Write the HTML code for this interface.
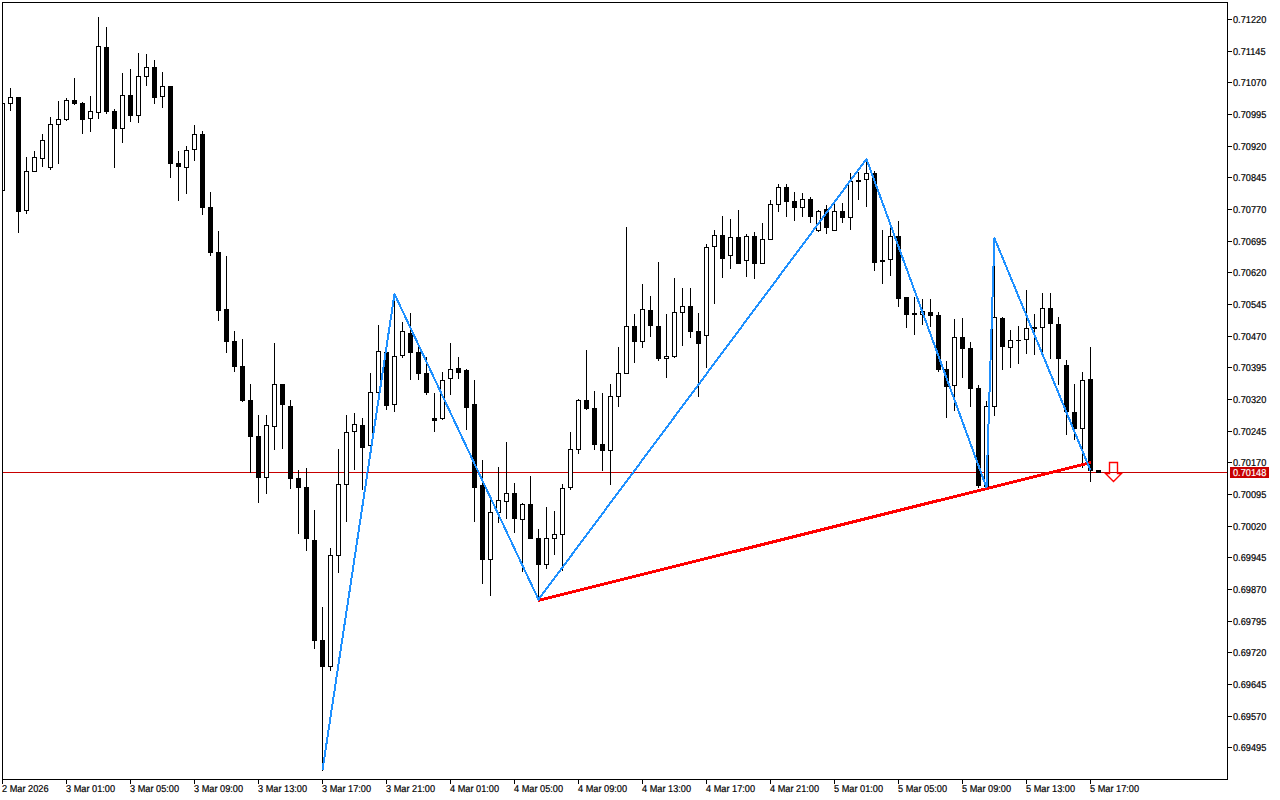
<!DOCTYPE html>
<html><head><meta charset="utf-8"><title>Chart</title>
<style>
html,body{margin:0;padding:0;background:#fff;}
body{width:1280px;height:800px;overflow:hidden;position:relative;font-family:"Liberation Sans",sans-serif;}
svg{position:absolute;left:0;top:0;}
.pl{position:absolute;left:1233px;font-size:10px;line-height:10px;text-rendering:geometricPrecision;height:10px;color:#000;white-space:nowrap;transform-origin:0 50%;transform:scaleX(0.92);-webkit-text-stroke:0.2px #000;}
.tl{position:absolute;top:785px;font-size:10px;line-height:10px;text-rendering:geometricPrecision;height:10px;color:#000;white-space:nowrap;transform-origin:0 50%;transform:scaleX(0.92);-webkit-text-stroke:0.2px #000;}
.cur{position:absolute;left:1230px;top:467px;width:39px;height:11px;background:#c80000;}
.cur span{position:absolute;left:3px;top:2px;font-size:10px;line-height:10px;text-rendering:geometricPrecision;color:#fff;white-space:nowrap;transform-origin:0 50%;transform:scaleX(0.92);-webkit-text-stroke:0.2px #fff;}
</style></head><body>
<svg width="1280" height="800" viewBox="0 0 1280 800" shape-rendering="crispEdges">
<rect x="3" y="472" width="1224" height="1" fill="#c80000"/>
<path d="M2 103h3v88h-3zM10 88h1v23h-1zM8 97h5v7h-5zM18 97h1v136h-1zM16 97h5v115h-5zM26 157h1v57h-1zM24 171h5v40h-5zM34 151h1v21h-1zM32 157h5v15h-5zM42 134h1v33h-1zM40 140h5v19h-5zM50 117h1v53h-1zM48 124h5v44h-5zM58 101h1v63h-1zM56 119h5v6h-5zM66 98h1v23h-1zM64 100h5v20h-5zM74 78h1v27h-1zM72 100h5v4h-5zM82 102h1v32h-1zM80 103h5v17h-5zM90 96h1v36h-1zM88 111h5v8h-5zM98 17h1v102h-1zM96 46h5v67h-5zM106 27h1v87h-1zM104 47h5v65h-5zM114 109h1v59h-1zM112 111h5v18h-5zM122 73h1v70h-1zM120 95h5v34h-5zM130 69h1v53h-1zM128 95h5v21h-5zM138 53h1v70h-1zM136 76h5v40h-5zM146 54h1v32h-1zM144 67h5v10h-5zM154 60h1v44h-1zM152 67h5v31h-5zM162 72h1v36h-1zM160 86h5v11h-5zM170 86h1v92h-1zM168 86h5v78h-5zM178 151h1v50h-1zM176 163h5v4h-5zM186 146h1v48h-1zM184 150h5v18h-5zM194 125h1v36h-1zM192 134h5v16h-5zM202 131h1v84h-1zM200 134h5v74h-5zM210 192h1v64h-1zM208 207h5v46h-5zM218 231h1v90h-1zM216 252h5v59h-5zM226 256h1v97h-1zM224 309h5v33h-5zM234 331h1v41h-1zM232 341h5v26h-5zM242 339h1v63h-1zM240 366h5v35h-5zM250 384h1v89h-1zM248 400h5v37h-5zM258 415h1v88h-1zM256 436h5v42h-5zM266 415h1v79h-1zM264 425h5v53h-5zM274 343h1v107h-1zM272 384h5v43h-5zM282 384h1v65h-1zM280 384h5v21h-5zM290 400h1v89h-1zM288 406h5v73h-5zM298 470h1v64h-1zM296 478h5v10h-5zM306 468h1v83h-1zM304 487h5v52h-5zM314 510h1v139h-1zM312 540h5v101h-5zM322 607h1v164h-1zM320 640h5v27h-5zM330 548h1v123h-1zM328 555h5v112h-5zM338 449h1v124h-1zM336 484h5v72h-5zM346 415h1v107h-1zM344 432h5v53h-5zM354 413h1v57h-1zM352 424h5v8h-5zM362 418h1v72h-1zM360 425h5v23h-5zM370 373h1v73h-1zM368 392h5v54h-5zM378 325h1v68h-1zM376 351h5v42h-5zM386 352h1v58h-1zM384 352h5v54h-5zM394 293h1v119h-1zM392 356h5v49h-5zM402 322h1v36h-1zM400 331h5v25h-5zM410 313h1v67h-1zM408 333h5v20h-5zM418 346h1v34h-1zM416 352h5v22h-5zM426 357h1v38h-1zM424 373h5v20h-5zM434 393h1v39h-1zM432 418h5v3h-5zM442 372h1v48h-1zM440 380h5v39h-5zM450 343h1v52h-1zM448 369h5v10h-5zM458 357h1v22h-1zM456 368h5v5h-5zM466 369h1v61h-1zM464 370h5v38h-5zM474 380h1v142h-1zM472 404h5v84h-5zM482 460h1v124h-1zM480 485h5v75h-5zM490 500h1v96h-1zM488 512h5v48h-5zM498 467h1v56h-1zM496 500h5v13h-5zM506 442h1v77h-1zM504 493h5v9h-5zM514 483h1v50h-1zM512 493h5v26h-5zM522 503h1v69h-1zM520 504h5v16h-5zM530 476h1v63h-1zM528 504h5v35h-5zM538 529h1v71h-1zM536 538h5v27h-5zM546 507h1v62h-1zM544 538h5v27h-5zM554 511h1v44h-1zM552 534h5v5h-5zM562 484h1v87h-1zM560 488h5v47h-5zM570 432h1v58h-1zM568 449h5v39h-5zM578 399h1v55h-1zM576 400h5v50h-5zM586 350h1v60h-1zM584 400h5v9h-5zM594 391h1v59h-1zM592 408h5v37h-5zM602 393h1v78h-1zM600 444h5v7h-5zM610 384h1v101h-1zM608 396h5v55h-5zM618 347h1v60h-1zM616 373h5v24h-5zM626 227h1v147h-1zM624 326h5v48h-5zM634 314h1v49h-1zM632 326h5v16h-5zM642 284h1v64h-1zM640 309h5v33h-5zM650 296h1v41h-1zM648 310h5v16h-5zM658 262h1v99h-1zM656 326h5v33h-5zM666 314h1v64h-1zM664 356h5v3h-5zM674 278h1v80h-1zM672 312h5v45h-5zM682 288h1v58h-1zM680 306h5v7h-5zM690 288h1v50h-1zM688 306h5v26h-5zM698 313h1v84h-1zM696 331h5v13h-5zM706 244h1v124h-1zM704 247h5v89h-5zM714 230h1v74h-1zM712 235h5v12h-5zM722 216h1v62h-1zM720 235h5v24h-5zM730 219h1v50h-1zM728 237h5v19h-5zM738 210h1v54h-1zM736 237h5v27h-5zM746 234h1v43h-1zM744 236h5v25h-5zM754 232h1v47h-1zM752 236h5v28h-5zM762 223h1v41h-1zM760 239h5v25h-5zM770 200h1v40h-1zM768 204h5v36h-5zM778 184h1v28h-1zM776 187h5v18h-5zM786 184h1v33h-1zM784 187h5v15h-5zM794 192h1v29h-1zM792 201h5v7h-5zM802 193h1v24h-1zM800 199h5v9h-5zM810 197h1v26h-1zM808 199h5v18h-5zM818 210h1v22h-1zM816 211h5v20h-5zM826 205h1v29h-1zM824 209h5v19h-5zM834 202h1v29h-1zM832 211h5v20h-5zM842 203h1v20h-1zM840 211h5v7h-5zM850 173h1v57h-1zM848 181h5v37h-5zM858 172h1v28h-1zM856 180h5v2h-5zM866 158h1v49h-1zM864 173h5v7h-5zM874 171h1v100h-1zM872 173h5v90h-5zM882 230h1v54h-1zM880 260h5v2h-5zM890 227h1v49h-1zM888 236h5v24h-5zM898 221h1v86h-1zM896 236h5v63h-5zM906 297h1v31h-1zM904 297h5v18h-5zM914 297h1v38h-1zM912 313h5v2h-5zM922 299h1v26h-1zM920 311h5v4h-5zM930 299h1v28h-1zM928 312h5v4h-5zM938 312h1v60h-1zM936 315h5v55h-5zM946 361h1v57h-1zM944 369h5v18h-5zM954 319h1v92h-1zM952 337h5v49h-5zM962 318h1v60h-1zM960 337h5v12h-5zM970 342h1v65h-1zM968 348h5v41h-5zM978 385h1v103h-1zM976 388h5v98h-5zM986 401h1v87h-1zM984 406h5v81h-5zM994 237h1v179h-1zM992 317h5v90h-5zM1002 317h1v53h-1zM1000 318h5v29h-5zM1010 330h1v38h-1zM1008 340h5v8h-5zM1018 326h1v38h-1zM1016 340h5v1h-5zM1026 290h1v64h-1zM1024 328h5v12h-5zM1034 314h1v41h-1zM1032 327h5v2h-5zM1042 293h1v59h-1zM1040 308h5v20h-5zM1050 293h1v66h-1zM1048 308h5v16h-5zM1058 317h1v68h-1zM1056 324h5v35h-5zM1066 360h1v75h-1zM1064 365h5v47h-5zM1074 384h1v56h-1zM1072 412h5v17h-5zM1082 372h1v96h-1zM1080 380h5v49h-5zM1090 347h1v135h-1zM1088 379h5v92h-5zM1098 470h1v3h-1zM1096 470h5v3h-5z" fill="#000"/>
<path d="M2 104h2v86h-2zM9 98h3v5h-3zM25 172h3v38h-3zM33 158h3v13h-3zM41 141h3v17h-3zM49 125h3v42h-3zM57 120h3v4h-3zM65 101h3v18h-3zM89 112h3v6h-3zM97 47h3v65h-3zM121 96h3v32h-3zM137 77h3v38h-3zM145 68h3v8h-3zM161 87h3v9h-3zM185 151h3v16h-3zM193 135h3v14h-3zM265 426h3v51h-3zM273 385h3v41h-3zM329 556h3v110h-3zM337 485h3v70h-3zM345 433h3v51h-3zM353 425h3v6h-3zM369 393h3v52h-3zM377 352h3v40h-3zM393 357h3v47h-3zM401 332h3v23h-3zM441 381h3v37h-3zM449 370h3v8h-3zM489 513h3v46h-3zM497 501h3v11h-3zM505 494h3v7h-3zM521 505h3v14h-3zM545 539h3v25h-3zM553 535h3v3h-3zM561 489h3v45h-3zM569 450h3v37h-3zM577 401h3v48h-3zM609 397h3v53h-3zM617 374h3v22h-3zM625 327h3v46h-3zM641 310h3v31h-3zM665 357h3v1h-3zM673 313h3v43h-3zM681 307h3v5h-3zM705 248h3v87h-3zM713 236h3v10h-3zM729 238h3v17h-3zM745 237h3v23h-3zM761 240h3v23h-3zM769 205h3v34h-3zM777 188h3v16h-3zM801 200h3v7h-3zM817 212h3v18h-3zM833 212h3v18h-3zM849 182h3v35h-3zM865 174h3v5h-3zM889 237h3v22h-3zM921 312h3v2h-3zM953 338h3v47h-3zM985 407h3v79h-3zM993 318h3v88h-3zM1009 341h3v6h-3zM1025 329h3v10h-3zM1041 309h3v18h-3zM1081 381h3v47h-3z" fill="#fff"/>
<line x1="538" y1="600.5" x2="1091" y2="462.5" stroke="#ff0000" stroke-width="3"/>
<polyline points="322.5,770 394.5,294 538.5,599.5 866.5,159 986.5,487.5 994.4,238 1090.5,470.5" fill="none" stroke="#1e90ff" stroke-width="2" stroke-linejoin="round"/>
<path d="M1109.5 462.5H1117.5V473.5H1121.5L1113.5 481.5L1105.5 473.5H1109.5Z" fill="none" stroke="#ff0000" stroke-width="1.4" shape-rendering="auto"/>
<path d="M2 2h1226v1h-1226zM2 2h1v778h-1zM2 779h1226v1h-1226zM1227 2h1v778h-1zM1228 19h4v1h-4zM1228 51h4v1h-4zM1228 82h4v1h-4zM1228 114h4v1h-4zM1228 146h4v1h-4zM1228 177h4v1h-4zM1228 209h4v1h-4zM1228 241h4v1h-4zM1228 272h4v1h-4zM1228 304h4v1h-4zM1228 336h4v1h-4zM1228 367h4v1h-4zM1228 399h4v1h-4zM1228 431h4v1h-4zM1228 462h4v1h-4zM1228 494h4v1h-4zM1228 526h4v1h-4zM1228 557h4v1h-4zM1228 589h4v1h-4zM1228 621h4v1h-4zM1228 652h4v1h-4zM1228 684h4v1h-4zM1228 716h4v1h-4zM1228 747h4v1h-4zM2 780h1v4h-1zM66 780h1v4h-1zM130 780h1v4h-1zM194 780h1v4h-1zM258 780h1v4h-1zM322 780h1v4h-1zM386 780h1v4h-1zM450 780h1v4h-1zM514 780h1v4h-1zM578 780h1v4h-1zM642 780h1v4h-1zM706 780h1v4h-1zM770 780h1v4h-1zM834 780h1v4h-1zM898 780h1v4h-1zM962 780h1v4h-1zM1026 780h1v4h-1zM1090 780h1v4h-1z" fill="#000"/>
</svg>
<div class="pl" style="top:16px">0.71220</div><div class="pl" style="top:48px">0.71145</div><div class="pl" style="top:79px">0.71070</div><div class="pl" style="top:111px">0.70995</div><div class="pl" style="top:143px">0.70920</div><div class="pl" style="top:174px">0.70845</div><div class="pl" style="top:206px">0.70770</div><div class="pl" style="top:238px">0.70695</div><div class="pl" style="top:269px">0.70620</div><div class="pl" style="top:301px">0.70545</div><div class="pl" style="top:333px">0.70470</div><div class="pl" style="top:364px">0.70395</div><div class="pl" style="top:396px">0.70320</div><div class="pl" style="top:428px">0.70245</div><div class="pl" style="top:459px">0.70170</div><div class="pl" style="top:491px">0.70095</div><div class="pl" style="top:523px">0.70020</div><div class="pl" style="top:554px">0.69945</div><div class="pl" style="top:586px">0.69870</div><div class="pl" style="top:618px">0.69795</div><div class="pl" style="top:649px">0.69720</div><div class="pl" style="top:681px">0.69645</div><div class="pl" style="top:713px">0.69570</div><div class="pl" style="top:744px">0.69495</div>
<div class="tl" style="left:2px">2 Mar 2026</div><div class="tl" style="left:66px">3 Mar 01:00</div><div class="tl" style="left:130px">3 Mar 05:00</div><div class="tl" style="left:194px">3 Mar 09:00</div><div class="tl" style="left:258px">3 Mar 13:00</div><div class="tl" style="left:322px">3 Mar 17:00</div><div class="tl" style="left:386px">3 Mar 21:00</div><div class="tl" style="left:450px">4 Mar 01:00</div><div class="tl" style="left:514px">4 Mar 05:00</div><div class="tl" style="left:578px">4 Mar 09:00</div><div class="tl" style="left:642px">4 Mar 13:00</div><div class="tl" style="left:706px">4 Mar 17:00</div><div class="tl" style="left:770px">4 Mar 21:00</div><div class="tl" style="left:834px">5 Mar 01:00</div><div class="tl" style="left:898px">5 Mar 05:00</div><div class="tl" style="left:962px">5 Mar 09:00</div><div class="tl" style="left:1026px">5 Mar 13:00</div><div class="tl" style="left:1090px">5 Mar 17:00</div>
<div class="cur"><span>0.70148</span></div>
</body></html>
